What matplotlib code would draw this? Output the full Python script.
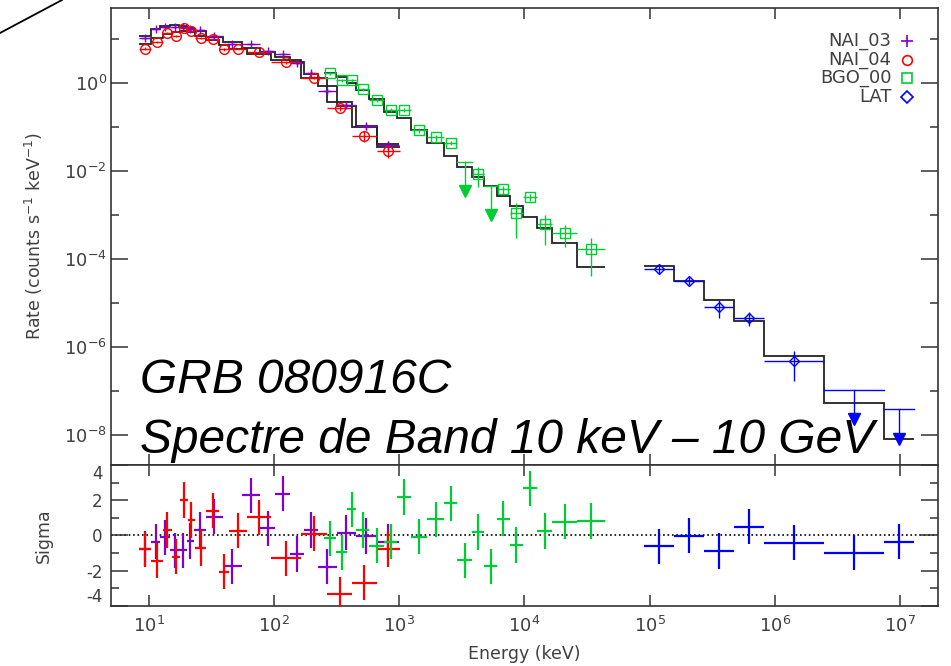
import matplotlib.pyplot as plt
import numpy as np
from matplotlib.lines import Line2D
from matplotlib.ticker import FixedLocator, LogFormatterMathtext, NullLocator, NullFormatter

plt.rcParams['font.family'] = 'DejaVu Sans'
plt.rcParams['mathtext.default'] = 'regular'

# NAI_03 (keV bin edges, counts/s/keV)
nai3_edges = [8.3, 10.4, 12.4, 14.9, 17.6, 20.1, 23.1, 28.6, 38.9, 55.6, 77.6, 102, 135, 174, 223, 320, 449, 664, 1000]
nai3_rate = [10.5, 16.3, 18.7, 18.1, 18.7, 16.6, 15.8, 11.5, 7.6, 7.5, 5.3, 4.5, 2.76, 1.69, 0.66, 0.31, 0.104, 0.038]
nai3_err = [0.6, 0.8, 0.9, 0.9, 0.9, 0.9, 0.8, 0.6, 0.45, 0.4, 0.3, 0.25, 0.2, 0.12, 0.06, 0.04, 0.02, 0.01]
nai3_model = [11.7, 17.0, 19.4, 20.3, 20.0, 17.8, 15.0, 11.0, 8.5, 6.3, 5.1, 3.9, 3.0, 1.6, 0.85, 0.3, 0.105, 0.04]
nai3_sigma = [-0.75, -0.36, -0.11, -0.84, -0.84, -0.32, 0.30, 1.06, -1.75, 2.28, 0.40, 2.36, -1.06, 0.30, -1.79, 0.15, -0.04, -0.36]

# NAI_04
nai4_edges = [8.3, 10.4, 12.9, 15.3, 17.8, 20.5, 23.5, 28.6, 36.6, 43.5, 61, 95, 163, 266, 421, 661, 1010]
nai4_rate = [6.0, 8.6, 13.3, 11.7, 17.2, 15.0, 10.5, 9.8, 5.7, 6.0, 4.9, 2.9, 1.3, 0.27, 0.063, 0.0285]
nai4_err = [0.35, 0.5, 0.6, 0.6, 0.7, 0.7, 0.6, 0.5, 0.4, 0.3, 0.25, 0.2, 0.1, 0.04, 0.018, 0.009]
nai4_model = [7.5, 10.5, 13.0, 14.2, 15.0, 14.3, 11.8, 9.5, 7.2, 5.8, 4.5, 3.3, 1.28, 0.37, 0.1, 0.034]
nai4_sigma = [-0.80, -1.44, 0.30, -1.22, 2.01, 0.87, -0.72, 1.41, -2.07, 0.27, 1.03, -1.31, 0.10, -3.36, -2.70, -0.78]

# BGO_00
bgo_edges = [252, 312, 386, 451, 575, 759, 968, 1236, 1679, 2280, 2911, 3837, 4753, 6067, 7621, 9727, 12650, 16670, 26360, 43850]
bgo_rate = [1.64, 1.15, 1.15, 0.71, 0.40, 0.24, 0.24, 0.084, 0.057, 0.043, 0.016, 0.0083, 0.0046, 0.0038, 0.00108, 0.0025, 0.0006, 0.00038, 0.000166]
bgo_err = [0.12, 0.09, 0.09, 0.06, 0.04, 0.025, 0.025, 0.012, 0.009, 0.005, 0, 0.004, 0, 0.0008, 0.00078, 0.0004, 0.0004, 0.0002, 0.000125]
bgo_ul = [0, 0, 0, 0, 0, 0, 0, 0, 0, 0, 1, 0, 1, 0, 0, 0, 0, 0, 0]
bgo_model = [1.64, 1.32, 0.97, 0.68, 0.42, 0.22, 0.155, 0.084, 0.042, 0.0216, 0.0123, 0.0071, 0.0044, 0.0026, 0.0016, 0.00089, 0.00049, 0.000224, 0.000066]
bgo_sigma = [-0.17, -0.97, 1.48, 0.30, -0.59, -0.36, 2.18, -0.08, 0.91, 1.82, -1.41, 0.19, -1.75, 0.95, -0.55, 2.68, 0.25, 0.78, 0.82]

# LAT
lat_edges = [9.0e4, 1.57e5, 2.72e5, 4.71e5, 8.17e5, 2.45e6, 7.4e6, 1.28e7]
lat_rate = [5.8e-5, 3.2e-5, 7.9e-6, 4.6e-6, 4.8e-7, 1.05e-7, 3.8e-8]
lat_err = [1.4e-5, 7e-6, 3.5e-6, 1.7e-6, 3.1e-7, 0, 0]
lat_ul = [0, 0, 0, 0, 0, 1, 1]
lat_model = [6.9e-5, 3.2e-5, 1.13e-5, 3.8e-6, 6.2e-7, 5.2e-8, 8e-9]
lat_sigma = [-0.61, -0.02, -0.89, 0.49, -0.42, -0.99, -0.36]

PURPLE = '#8000cc'
RED = '#ff0000'
GREEN = '#00cc33'
BLUE = '#0000ff'
TXT = '#404040'

fig = plt.figure(figsize=(9.51, 6.66), dpi=100)
ax = fig.add_axes([0.1167, 0.3018, 0.8696, 0.6862])
axr = fig.add_axes([0.1167, 0.0905, 0.8696, 0.2113], sharex=ax)


def draw(edges, rate, err, model, sigma, color, marker, ms, ul=None):
    edges = np.asarray(edges, float)
    rate = np.asarray(rate, float)
    err = np.asarray(err, float)
    lo, hi = edges[:-1], edges[1:]
    cen = np.sqrt(lo * hi)
    ul = np.zeros(len(rate), bool) if ul is None else np.asarray(ul, bool)
    ok = ~ul

    ax.stairs(model, edges, baseline=None, color='#222222', lw=1.3, zorder=2)
    ax.errorbar(cen[ok], rate[ok], xerr=[cen[ok] - lo[ok], hi[ok] - cen[ok]], yerr=err[ok],
                fmt=marker, color=color, mfc='none', mec=color, ms=ms, mew=1.0,
                elinewidth=1.0, capsize=0, zorder=3)
    for c, l, h, v in zip(cen[ul], lo[ul], hi[ul], rate[ul]):
        tip = v / 5.62
        ax.plot([l, h], [v, v], color=color, lw=1.0, zorder=3)
        ax.plot([c, c], [v, tip * 1.25], color=color, lw=1.0, zorder=3)
        ax.plot(c, tip * 1.2, marker='v', color=color, ms=8, mec=color, zorder=3)

    axr.errorbar(cen, sigma, xerr=[cen - lo, hi - cen], yerr=1.0, fmt='none',
                 ecolor=color, elinewidth=1.6, capsize=0, zorder=3)


draw(nai3_edges, nai3_rate, nai3_err, nai3_model, nai3_sigma, PURPLE, '+', 6)
draw(nai4_edges, nai4_rate, nai4_err, nai4_model, nai4_sigma, RED, 'o', 7)
draw(bgo_edges, bgo_rate, bgo_err, bgo_model, bgo_sigma, GREEN, 's', 6.5, bgo_ul)
draw(lat_edges, lat_rate, lat_err, lat_model, lat_sigma, BLUE, 'D', 5, lat_ul)

axr.axhline(0, color='k', ls=':', lw=1.2, zorder=1)

# axes styling
ax.set_xscale('log')
ax.set_yscale('log')
ax.set_xlim(5, 2e7)
ax.set_ylim(2.05e-9, 50)
ax.xaxis.set_major_locator(FixedLocator([1e1, 1e2, 1e3, 1e4, 1e5, 1e6, 1e7]))
ax.xaxis.set_minor_locator(NullLocator())
ax.xaxis.set_major_formatter(LogFormatterMathtext())
ax.yaxis.set_major_locator(FixedLocator([1e-8, 1e-6, 1e-4, 1e-2, 1e0]))
ax.yaxis.set_minor_locator(FixedLocator([1e-7, 1e-5, 1e-3, 1e-1, 1e1]))
ax.yaxis.set_major_formatter(LogFormatterMathtext())
ax.yaxis.set_minor_formatter(NullFormatter())

axr.set_ylim(-4, 4)
axr.yaxis.set_major_locator(FixedLocator([-4, -2, 0, 2, 4]))
axr.yaxis.set_minor_locator(FixedLocator([-3, -1, 1, 3]))
axr.set_yticklabels(['-4', '-2', '0', '2', '4'])

for a in (ax, axr):
    for s in a.spines.values():
        s.set_color('#333333')
        s.set_linewidth(1.2)
    a.tick_params(which='both', direction='in', top=True, right=True,
                  colors='#333333', labelcolor=TXT, width=1.1)
    a.tick_params(axis='x', which='major', length=8, labelsize=13, pad=7)
    a.tick_params(axis='y', which='major', length=12)
    a.tick_params(axis='y', which='minor', length=6)

ax.tick_params(axis='x', labelbottom=False)
ax.tick_params(axis='y', labelsize=13, pad=3)
axr.tick_params(axis='y', labelsize=12, pad=6)

ylabs = axr.get_yticklabels()
ylabs[0].set_va('bottom')
ylabs[-1].set_va('top')

ax.set_ylabel('Rate (counts s$^{-1}$ keV$^{-1}$)', fontsize=12.5, color=TXT)
ax.yaxis.set_label_coords(-0.08, 0.5)
axr.set_ylabel('Sigma', fontsize=12.5, color=TXT)
axr.yaxis.set_label_coords(-0.07, 0.5)
axr.set_xlabel('Energy (keV)', fontsize=12.5, color=TXT)
axr.xaxis.set_label_coords(0.5, -0.28)

# legend drawn by hand, as in the original
leg = [('NAI_03', PURPLE, '+', 8), ('NAI_04', RED, 'o', 7),
       ('BGO_00', GREEN, 's', 7.5), ('LAT', BLUE, 'D', 6)]
for i, (name, col, mk, ms) in enumerate(leg):
    yy = 0.928 - i * 0.041
    ax.text(0.944, yy, name, transform=ax.transAxes, ha='right', va='center',
            fontsize=13, color=TXT)
    ax.plot([0.9625], [yy], transform=ax.transAxes, marker=mk, ms=ms, color=col,
            mfc='none', mec=col, mew=1.2, ls='none', clip_on=False)

fig.text(0.147, 1 - 393 / 666, 'GRB 080916C', family='Liberation Sans', style='italic',
         fontsize=34.5, va='baseline', ha='left', color='k')
fig.text(0.147, 1 - 453 / 666, 'Spectre de Band 10 keV \u2013 10 GeV', family='Liberation Sans',
         style='italic', fontsize=34.5, va='baseline', ha='left', color='k')

fig.add_artist(Line2D([0, 62 / 951], [1 - 33 / 666, 1], transform=fig.transFigure,
                      color='k', lw=1.3))

fig.savefig('out.png', dpi=100)
